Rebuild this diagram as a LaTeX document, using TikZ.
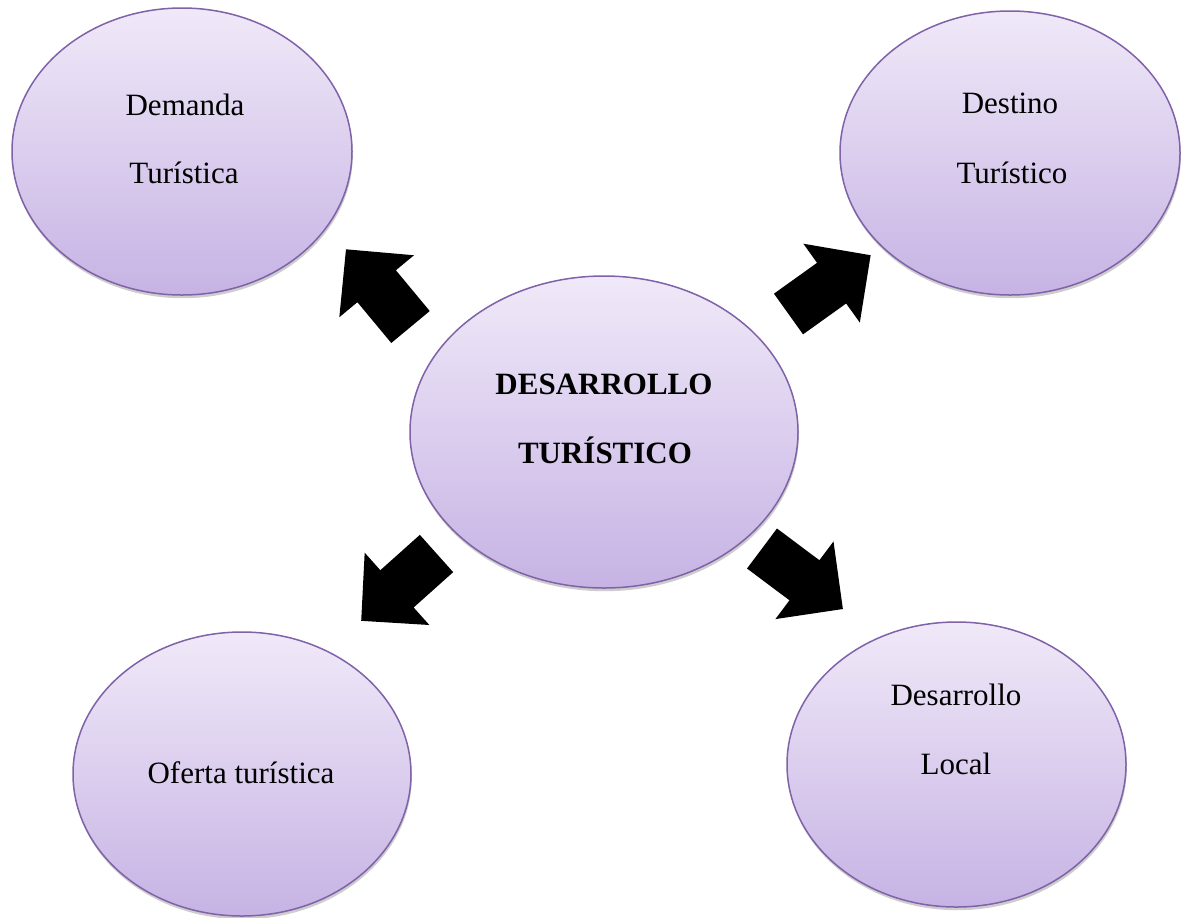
\documentclass[tikz,border=0pt]{standalone}
\usepackage{fontspec}
\setmainfont{Liberation Serif}
\usetikzlibrary{shapes.geometric,shadows}
\definecolor{ellTop}{HTML}{F0E9F8}
\definecolor{ellBot}{HTML}{C6B3E4}
\definecolor{ellLine}{HTML}{7F62A8}
\tikzset{
  bubble/.style={ellipse, draw=ellLine, line width=0.75pt, inner sep=0pt,
    top color=ellTop, bottom color=ellBot,
    drop shadow={shadow xshift=0.4pt, shadow yshift=-1.6pt, opacity=0.28, fill=black!70}},
  lbl/.style={inner sep=0pt, anchor=base, font=\fontsize{15.5}{18}\selectfont},
  blbl/.style={lbl, font=\fontsize{15.5}{18}\selectfont\bfseries},
  blockarrow/.style={fill=black, draw=none}
}
\newcommand{\BlockArrowAt}[2]{%
  \fill[blockarrow, shift={(#1)}, rotate=#2, x=0.5pt, y=0.5pt]
    (0,-25) -- (53,-25) -- (53,-48.5) -- (101,0) -- (53,48.5) -- (53,25) -- (0,25) -- cycle;}
\begin{document}
\begin{tikzpicture}[x=0.5pt, y=-0.5pt]
\useasboundingbox (0,0) rectangle (1182,917);
\fill[white] (0,0) rectangle (1182,917);

% ellipses
\node[bubble, minimum width=170pt, minimum height=143.5pt] (dem) at (182,151.5) {};
\node[bubble, minimum width=170pt, minimum height=142pt] (des) at (1010,153) {};
\node[bubble, minimum width=194pt, minimum height=156pt] (cen) at (604,432) {};
\node[bubble, minimum width=169pt, minimum height=142pt] (ofe) at (242,774) {};
\node[bubble, minimum width=169.5pt, minimum height=142.5pt] (loc) at (956.5,764.5) {};

% texts
\node[lbl] (dem1) at (185,115) {Demanda};
\node[lbl] (dem2) at (184,183) {Turística};
\node[lbl] (des1) at (1010,113) {Destino};
\node[lbl] (des2) at (1012,183) {Turístico};
\node[blbl] (cen1) at (604,394) {DESARROLLO};
\node[blbl] (cen2) at (605,463) {TURÍSTICO};
\node[lbl] (ofe1) at (241,783) {Oferta turística};
\node[lbl] (loc1) at (956,705) {Desarrollo};
\node[lbl] (loc2) at (956,774) {Local};

% block arrows (tails at named coordinates)
\coordinate (t1) at (410.5,327);
\coordinate (t2) at (788.5,314);
\coordinate (t3) at (436.5,553.5);
\coordinate (t4) at (762,548.5);
\BlockArrowAt{t1}{129.7}
\BlockArrowAt{t2}{35.6}
\BlockArrowAt{t3}{221.8}
\BlockArrowAt{t4}{-36.8}
\end{tikzpicture}
\end{document}
